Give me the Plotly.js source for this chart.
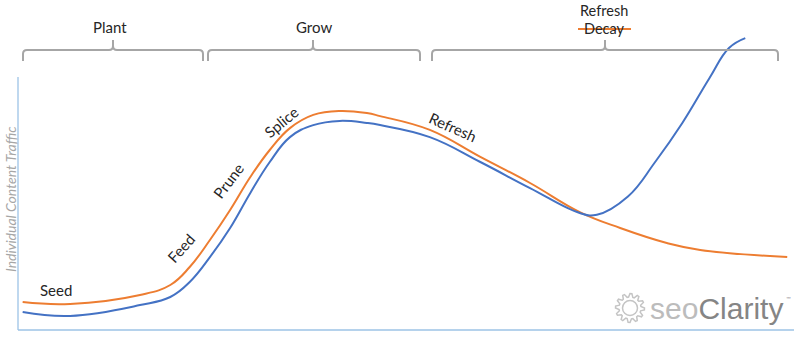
<!DOCTYPE html>
<html>
<head>
<meta charset="utf-8">
<script src="https://cdn.plot.ly/plotly-3.0.1.min.js"></script>
<style>html,body{margin:0;padding:0;background:#fff;}#chart{width:800px;height:358px;}</style>
</head>
<body>
<div id="chart"></div>
<script>
// ---- Data ----
const timeDecay = [0.6, 6.7, 15.7, 19.6, 22.1, 24.7, 27.3, 29.9, 32.4, 35.0, 38.0, 41.4, 44.9, 46.6, 53.0, 59.5, 65.9, 72.3, 77.5, 83.5, 87.8, 99.0];
const trafficDecay = [9.3, 8.7, 11.7, 15.0, 21.0, 30.0, 40.0, 51.0, 60.0, 67.3, 71.7, 73.0, 72.3, 71.3, 66.7, 57.7, 49.0, 39.3, 34.0, 29.0, 26.7, 24.3];
const timeRefresh = [0.6, 6.7, 15.7, 19.6, 22.1, 24.7, 27.3, 29.9, 32.4, 35.0, 38.0, 41.4, 44.9, 46.6, 53.0, 59.5, 65.9, 72.3, 74.5, 78.5, 82.0, 85.5, 89.0, 91.5, 93.6];
const trafficRefresh = [6.0, 4.7, 8.3, 11.0, 16.0, 24.3, 34.0, 45.7, 56.0, 64.3, 68.3, 69.7, 69.0, 68.3, 64.3, 56.0, 47.3, 39.0, 38.4, 44.5, 56.0, 69.0, 84.0, 94.0, 97.3];

const phaseLabels = ["Plant", "Grow", "Refresh"];
const struckLabel = "Decay";
const stepLabels = ["Seed", "Feed", "Prune", "Splice", "Refresh"];
const xTitle = "Time";
const yTitle = "Individual Content Traffic";

// ---- pixel helpers for decorations ----
const X = px => (px - 18) / 7.77;
const Y = py => (330 - py) / 3;
const P = (px, py) => X(px).toFixed(3) + ',' + Y(py).toFixed(3);

const FONT = 'Lato, "Open Sans", sans-serif';
const ORANGE = '#ED7D31', BLUE = '#4472C4', AXIS = '#9DC3E6', BR = '#a6a6a6';

function bracket(a, b, c) {
  return 'M' + P(a, 61) + ' L' + P(a, 54) + ' Q' + P(a, 50) + ' ' + P(a + 4, 50) +
    ' L' + P(c - 4, 50) + ' Q' + P(c, 50) + ' ' + P(c, 46) + ' L' + P(c, 40) +
    ' M' + P(c, 46) + ' Q' + P(c, 50) + ' ' + P(c + 4, 50) +
    ' L' + P(b - 4, 50) + ' Q' + P(b, 50) + ' ' + P(b, 54) + ' L' + P(b, 61);
}

function gear(cx, cy, ro, ri, n) {
  let d = '';
  const steps = n * 4;
  for (let i = 0; i < steps; i++) {
    const ang = (i / steps) * 2 * Math.PI;
    const r = (i % 4 < 2) ? ro : ri;
    const px = cx + r * Math.cos(ang), py = cy + r * Math.sin(ang);
    d += (i === 0 ? 'M' : ' L') + P(px, py);
  }
  return d + ' Z';
}
function circle(cx, cy, r) {
  return {type: 'circle', xref: 'x', yref: 'y', x0: X(cx - r), x1: X(cx + r), y0: Y(cy + r), y1: Y(cy - r),
    line: {color: '#c4c4c4', width: 1.5}};
}

const shapes = [
  {type: 'line', x0: 0, x1: 0, y0: 0, y1: Y(77), line: {color: AXIS, width: 1.3}},
  {type: 'line', x0: 0, x1: X(795), y0: 0, y1: 0, line: {color: AXIS, width: 1.3}},
  {type: 'path', path: bracket(23, 203, 113), line: {color: BR, width: 2}},
  {type: 'path', path: bracket(208, 420, 313), line: {color: BR, width: 2}},
  {type: 'path', path: bracket(432, 778, 605), line: {color: BR, width: 2}},
  {type: 'line', x0: X(578), x1: X(631), y0: Y(29), y1: Y(29), line: {color: ORANGE, width: 2}},
  {type: 'path', path: gear(630, 308, 14.5, 11, 12), line: {color: '#c4c4c4', width: 1.5}},
  circle(630, 308, 7.5)
];

const txt = (text, px, py, opts) => Object.assign({
  text: text, x: X(px), y: Y(py), xref: 'x', yref: 'y', showarrow: false,
  xanchor: 'center', yanchor: 'middle', font: {family: FONT, size: 15, color: '#262626'}
}, opts || {});

const annotations = [
  txt(phaseLabels[0], 110, 27),
  txt(phaseLabels[1], 314, 27),
  txt(phaseLabels[2], 604, 10, {font: {family: FONT, size: 14.5, color: '#262626'}}),
  txt(struckLabel, 604, 28, {font: {family: FONT, size: 14.5, color: '#262626'}}),
  txt(stepLabels[0], 56, 290),
  txt(stepLabels[1], 181, 248, {textangle: -48}),
  txt(stepLabels[2], 228, 181, {textangle: -53}),
  txt(stepLabels[3], 281, 122, {textangle: -40}),
  txt(stepLabels[4], 453, 127, {textangle: 24}),
  txt(yTitle, 10, 199, {textangle: -90, font: {family: FONT, size: 14, color: '#a6a6a6', style: 'italic'}}),
  txt(xTitle, 352, 345, {font: {family: FONT, size: 13.5, color: '#a6a6a6', style: 'italic'}}),
  txt('<span style="color:#bcbcbc">seo</span><span style="color:#858585">Clarity</span>', 716, 308,
    {font: {family: '"Liberation Sans", Arial, sans-serif', size: 30, color: '#858585'}}),
  txt('™', 788, 298, {font: {family: FONT, size: 6, color: '#999'}})
];

const traces = [
  {x: timeDecay, y: trafficDecay, type: 'scatter', mode: 'lines', name: 'Decay',
   line: {color: ORANGE, width: 2, shape: 'spline', smoothing: 1.2}, hoverinfo: 'skip'},
  {x: timeRefresh, y: trafficRefresh, type: 'scatter', mode: 'lines', name: 'Refresh',
   line: {color: BLUE, width: 2, shape: 'spline', smoothing: 1.2}, hoverinfo: 'skip'}
];

const layout = {
  width: 800, height: 358,
  margin: {l: 2, r: 6, t: 0, b: 18, pad: 0},
  paper_bgcolor: '#fff', plot_bgcolor: '#fff',
  showlegend: false,
  xaxis: {range: [-16 / 7.77, -16 / 7.77 + 792 / 7.77], visible: false, fixedrange: true},
  yaxis: {range: [-10 / 3, 110], visible: false, fixedrange: true},
  shapes: shapes,
  annotations: annotations
};

Plotly.newPlot('chart', traces, layout, {staticPlot: true, displayModeBar: false});
</script>
</body>
</html>
